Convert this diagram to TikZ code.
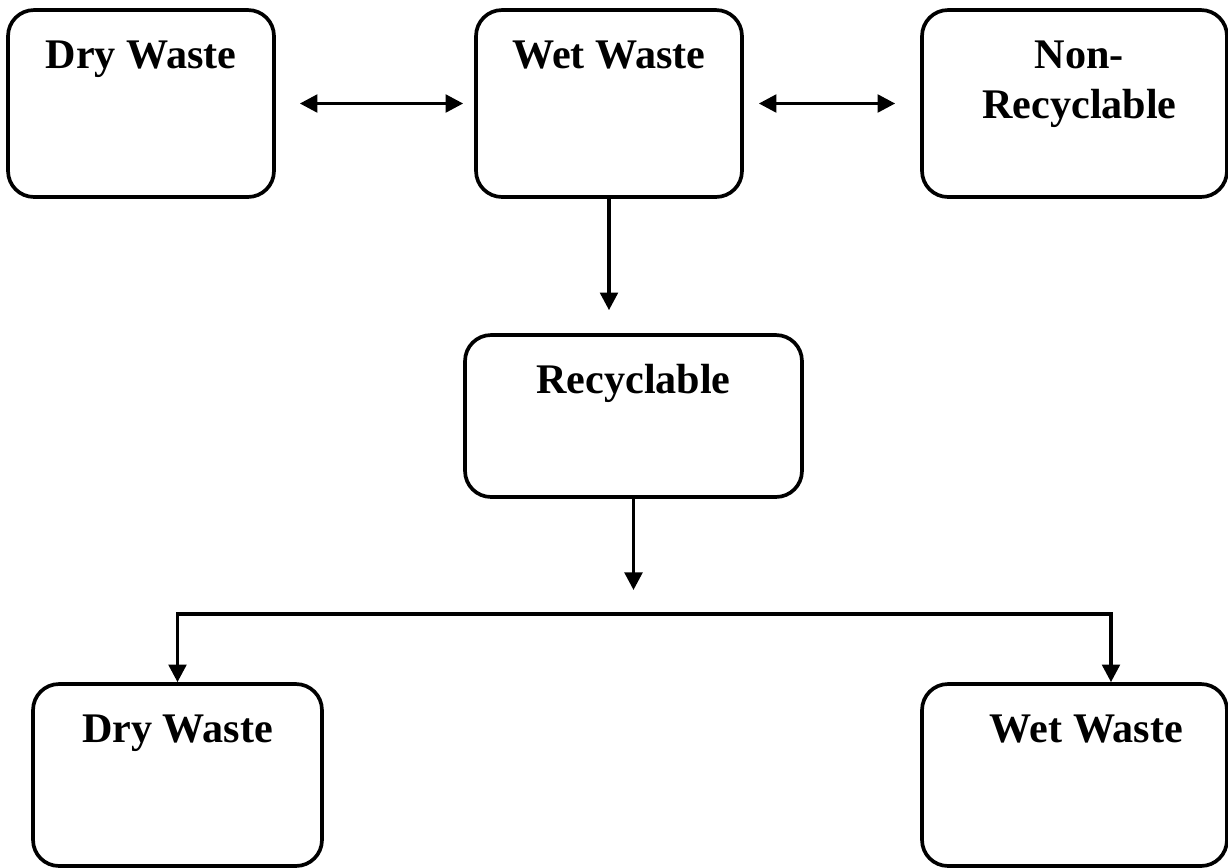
\documentclass[tikz,border=0pt]{standalone}
\usepackage{fontspec}
\setmainfont{Liberation Serif}
\usepackage{tikz}
\usetikzlibrary{positioning,arrows.meta,calc}

\begin{document}
\begin{tikzpicture}[
  x=0.02cm,y=-0.02cm,
  box/.style={draw,line width=2.1pt,rounded corners=0.52cm,minimum height=3.74cm,inner sep=0pt},
  ttl/.style={font=\bfseries\fontsize{24}{28.3}\selectfont,align=center,inner sep=0pt,anchor=base},
  arr/.style={-{Triangle[length=10pt,width=10pt]},line width=2pt},
  darr/.style={{Triangle[length=10pt,width=10pt]}-{Triangle[length=10pt,width=10pt]},line width=2pt}
]
\useasboundingbox (0,0) rectangle (1228,867);

% top row
\node[box,minimum width=5.32cm] (drytop) at (141,103.5) {};
\node[box,minimum width=5.32cm] (wettop) at (609,103.5) {};
\node[box,minimum width=6.1cm] (nonrec) at (1074.5,103.5) {};
% middle
\node[box,minimum width=6.74cm,minimum height=3.24cm] (recyc) at (633.5,416) {};
% bottom row
\node[box,minimum width=5.78cm,minimum height=3.64cm] (drylow) at (177.5,775) {};
\node[box,minimum width=6.1cm,minimum height=3.64cm] (wetlow) at (1074.5,775) {};

\node[ttl] (drytoptxt) at ([yshift=-1.2cm]drytop.north) {Dry Waste};
\node[ttl] (wettoptxt) at ([yshift=-1.2cm]wettop.north) {Wet Waste};
\node[ttl] (nonrectxt) at ([xshift=0.1cm,yshift=-2.2cm]nonrec.north) {Non-\\Recyclable};
\node[ttl] (recyctxt) at ([yshift=-1.2cm]recyc.north) {Recyclable};
\node[ttl] (drylowtxt) at ([yshift=-1.2cm]drylow.north) {Dry Waste};
\node[ttl] (wetlowtxt) at ([xshift=0.24cm,yshift=-1.2cm]wetlow.north) {Wet Waste};

\coordinate (fork) at (633.5,614);

\draw[darr,shorten <=0.48cm,shorten >=0.22cm] (drytop) -- (wettop);
\draw[darr,shorten <=0.3cm,shorten >=0.5cm] (wettop) -- (nonrec);
\draw[arr,shorten >=0.46cm] (wettop) -- (wettop |- recyc.north);
\draw[arr,shorten >=0.48cm] (recyc) -- (fork);
\draw[arr] (fork) -| (drylow.north);
\draw[arr] (fork) -| ([xshift=0.73cm]wetlow.north);
\end{tikzpicture}
\end{document}
